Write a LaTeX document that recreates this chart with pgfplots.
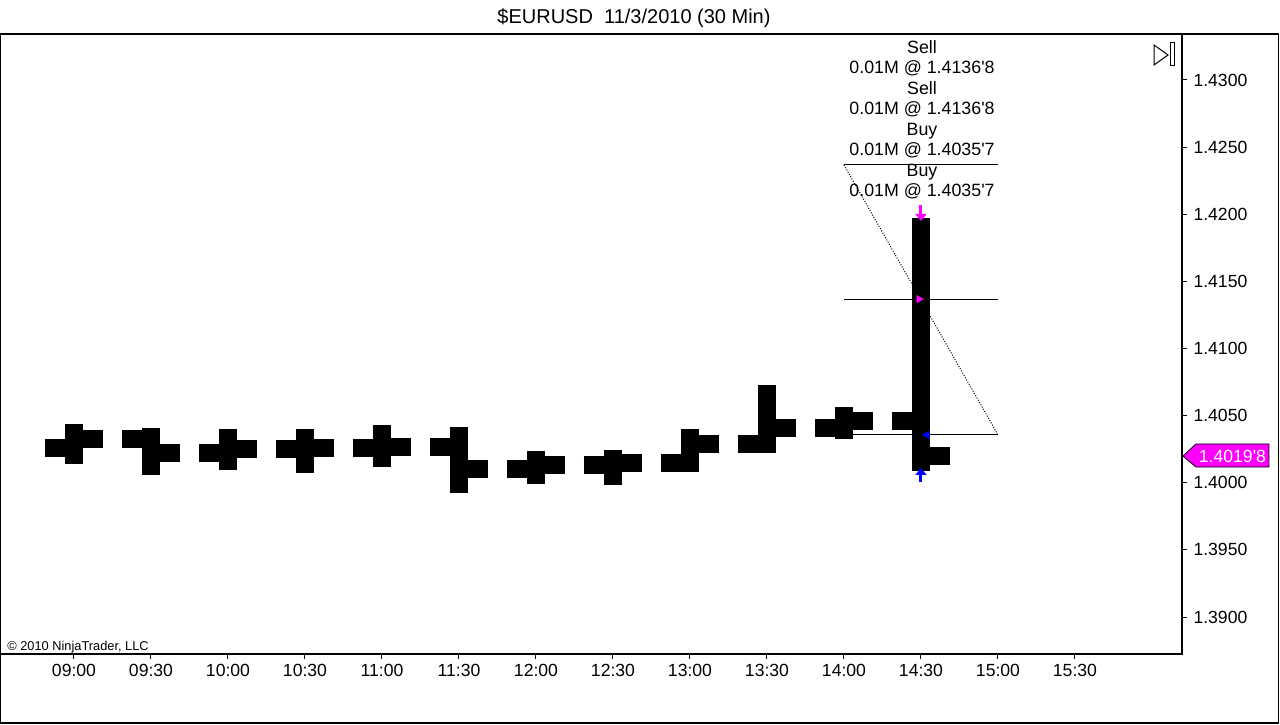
\documentclass[border=0pt]{standalone}
\usepackage{fontspec}
\setmainfont{Liberation Sans}
\usepackage{pgfplots}
\pgfplotsset{compat=1.18}
\usetikzlibrary{arrows.meta}
\definecolor{ntmag}{RGB}{255,0,255}
\definecolor{ntblue}{RGB}{0,0,255}
\newcommand{\tf}{\fontsize{8.8pt}{10.4pt}\selectfont}
\newcommand{\af}{\fontsize{8.9pt}{10.4pt}\selectfont}
\begin{document}
\begin{tikzpicture}
\begin{axis}[
  at={(0,0)}, anchor=south west,
  scale only axis, width=591pt, height=310pt,
  xmin=-0.961, xmax=14.390, ymin=1.387244, ymax=1.433426,
  axis line style={line width=0.7pt},
  xtick={0,1,2,3,4,5,6,7,8,9,10,11,12,13},
  xticklabels={09:00,09:30,10:00,10:30,11:00,11:30,12:00,12:30,13:00,13:30,14:00,14:30,15:00,15:30},
  ytick={1.390,1.395,1.400,1.405,1.410,1.415,1.420,1.425,1.430},
  xtick pos=left, ytick pos=right, yticklabel pos=right,
  tick align=outside,
  major tick length=2.25pt,
  tick style={black, line width=0.5pt},
  scaled y ticks=false,
  /pgf/number format/assume math mode=true,
  yticklabel style={/pgf/number format/fixed, /pgf/number format/fixed zerofill, /pgf/number format/precision=4, font=\tf, inner sep=0pt, anchor=west, xshift=3.3pt},
  xticklabel style={font=\tf, inner sep=0pt, anchor=north, yshift=-2.75pt},
  clip=false,
  unbounded coords=jump,
]
% trade lines (behind bars)
\addplot[black, line width=0.5pt] coordinates {
  (10,1.42367) (12,1.42367) (12,nan)
  (10,1.41368) (12,1.41368) (12,nan)
  (10,1.40357) (12,1.40357)};
\addplot[black, line width=0.5pt, dash pattern=on 0.5pt off 0.8pt] coordinates {(10,1.42367) (12,1.40357)};
% high-low bars
\addplot[black, line width=9pt, line cap=rect] coordinates {
  (0,1.40371) (0,1.40207) (0,nan)
  (1,1.40341) (1,1.40125) (1,nan)
  (2,1.40333) (2,1.40162) (2,nan)
  (3,1.40333) (3,1.40140) (3,nan)
  (4,1.40363) (4,1.40187) (4,nan)
  (5,1.40348) (5,1.39993) (5,nan)
  (6,1.40169) (6,1.40058) (6,nan)
  (7,1.40177) (7,1.40050) (7,nan)
  (8,1.40333) (8,1.40147) (8,nan)
  (9,1.40661) (9,1.40289) (9,nan)
  (10,1.40497) (10,1.40395) (10,nan)
  (11,1.41903) (11,1.40157)};
% open ticks
\addplot[black, line width=9pt] coordinates {
  (-0.377,1.40259) (0,1.40259) (0,nan)
  (0.623,1.40326) (1,1.40326) (1,nan)
  (1.623,1.40222) (2,1.40222) (2,nan)
  (2.623,1.40250) (3,1.40250) (3,nan)
  (3.623,1.40259) (4,1.40259) (4,nan)
  (4.623,1.40266) (5,1.40266) (5,nan)
  (5.623,1.40102) (6,1.40102) (6,nan)
  (6.623,1.40135) (7,1.40135) (7,nan)
  (7.623,1.40147) (8,1.40147) (8,nan)
  (8.623,1.40289) (9,1.40289) (9,nan)
  (9.623,1.40408) (10,1.40408) (10,nan)
  (10.623,1.40460) (11,1.40460)};
% close ticks
\addplot[black, line width=9pt] coordinates {
  (0,1.40326) (0.377,1.40326) (0.377,nan)
  (1,1.40222) (1.377,1.40222) (1.377,nan)
  (2,1.40250) (2.377,1.40250) (2.377,nan)
  (3,1.40259) (3.377,1.40259) (3.377,nan)
  (4,1.40266) (4.377,1.40266) (4.377,nan)
  (5,1.40102) (5.377,1.40102) (5.377,nan)
  (6,1.40135) (6.377,1.40135) (6.377,nan)
  (7,1.40147) (7.377,1.40147) (7.377,nan)
  (8,1.40289) (8.377,1.40289) (8.377,nan)
  (9,1.40408) (9.377,1.40408) (9.377,nan)
  (10,1.40460) (10.377,1.40460) (10.377,nan)
  (11,1.40198) (11.377,1.40198)};
% trade arrows
\addplot[ntmag, line width=1.5pt, -{Triangle[length=3.5pt,width=5.5pt]}] coordinates {(11,1.42069) (11,1.41950)};
\addplot[ntblue, line width=1.5pt, -{Triangle[length=3.5pt,width=5.5pt]}] coordinates {(11,1.40006) (11,1.40110)};
% execution markers
\addplot[only marks, mark=triangle*, mark size=2pt, mark options={rotate=-90, draw=ntmag, fill=ntmag}] coordinates {(10.974,1.41368)};
\addplot[only marks, mark=triangle*, mark size=2pt, mark options={rotate=90, draw=ntblue, fill=ntblue}] coordinates {(11.078,1.40357)};
% last price label
\draw[black, line width=0.4pt, fill=ntmag] (axis cs:14.403,1.40199) -- (axis cs:14.571,1.40289) -- (axis cs:15.519,1.40289) -- (axis cs:15.519,1.40117) -- (axis cs:14.571,1.40117) -- cycle;
\node[white, font=\tf, inner sep=0pt] at (axis cs:15.045,1.40199) {1.4019\textquotesingle 8};
% copyright
\node[anchor=base west, inner sep=0pt, font=\fontsize{6.4pt}{7pt}\selectfont] at (rel axis cs:0,0) [xshift=3.5pt, yshift=2pt] {\textcopyright{} 2010 NinjaTrader, LLC};
\end{axis}
% outer frame
\draw[line width=0.7pt] (0.35pt,-34.5pt) rectangle (639.2pt,310pt);
% title
\node[anchor=base, inner sep=0pt, font=\fontsize{10pt}{12pt}\selectfont] at (317pt,315.35pt) {\$EURUSD\ \ 11/3/2010 (30 Min)};
% annotations
\foreach \yy/\tx in {300.25/Sell, 290/0.01M @ 1.4136\textquotesingle 8, 279.75/Sell, 269.5/0.01M @ 1.4136\textquotesingle 8, 259.25/Buy, 249/0.01M @ 1.4035\textquotesingle 7, 238.75/Buy, 228.5/0.01M @ 1.4035\textquotesingle 7}
  \node[anchor=base, inner sep=0pt, font=\af] at (461pt,\yy pt) {\tx};
% end-of-chart icon
\draw[line width=0.5pt] (577pt,304.5pt) -- (577pt,294.5pt) -- (584pt,299.5pt) -- cycle;
\draw[line width=0.5pt] (585pt,305.5pt) rectangle (587pt,294pt);
\pgfresetboundingbox
\path[use as bounding box] (0,-35pt) rectangle (640pt,327pt);
\end{tikzpicture}
\end{document}
